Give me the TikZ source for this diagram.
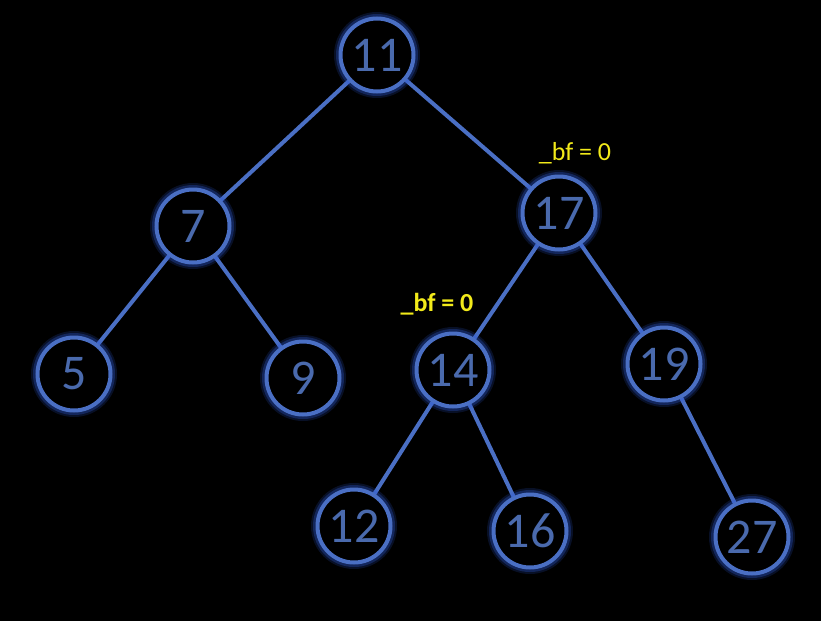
\documentclass[tikz,border=0pt]{standalone}
\usepackage{fontspec}
\setmainfont{Carlito}
\definecolor{ring}{HTML}{4A6FC4}
\definecolor{numc}{HTML}{4A6AAD}
\definecolor{glowc}{HTML}{2F5BD8}
\definecolor{lab}{HTML}{F2EA1A}
\begin{document}
\begin{tikzpicture}[x=1pt,y=-1pt,
  tnode/.style={circle,draw=ring,line width=4pt,fill=black,minimum size=73pt,inner sep=0pt,
    text=numc,font=\fontsize{50}{50}\selectfont,
    preaction={draw=glowc,line width=13pt,opacity=0.18},
    preaction={draw=glowc,line width=9pt,opacity=0.3}},
  edge/.style={draw=ring,line width=4pt},
  bflab/.style={text=lab,font=\fontsize{26}{26}\selectfont,inner sep=0pt}]
\fill[black] (0,0) rectangle (821,621);
\useasboundingbox (0,0) rectangle (821,621);
\coordinate (p11) at (377,55);
\coordinate (p7) at (193,226);
\coordinate (p17) at (559,213);
\coordinate (p5) at (74,374);
\coordinate (p9) at (303,378);
\coordinate (p14) at (453,370);
\coordinate (p19) at (664,364);
\coordinate (p12) at (354,526);
\coordinate (p16) at (530,531);
\coordinate (p27) at (752,537);
\draw[edge] (p11) -- (p7);
\draw[edge] (p11) -- (p17);
\draw[edge] (p7) -- (p5);
\draw[edge] (p7) -- (p9);
\draw[edge] (p17) -- (p14);
\draw[edge] (p17) -- (p19);
\draw[edge] (p14) -- (p12);
\draw[edge] (p14) -- (p16);
\draw[edge] (p19) -- (p27);
\node[tnode] (n11) at (p11) {11};
\node[tnode] (n7) at (p7) {7};
\node[tnode] (n17) at (p17) {17};
\node[tnode] (n5) at (p5) {5};
\node[tnode] (n9) at (p9) {9};
\node[tnode] (n14) at (p14) {14};
\node[tnode] (n19) at (p19) {19};
\node[tnode] (n12) at (p12) {12};
\node[tnode] (n16) at (p16) {16};
\node[tnode] (n27) at (p27) {27};
\node[bflab] (b17) at (575,153) {\_bf = 0};
\node[bflab,font=\fontsize{26}{26}\selectfont\bfseries] (b14) at (437,304) {\_bf = 0};
\end{tikzpicture}
\end{document}
